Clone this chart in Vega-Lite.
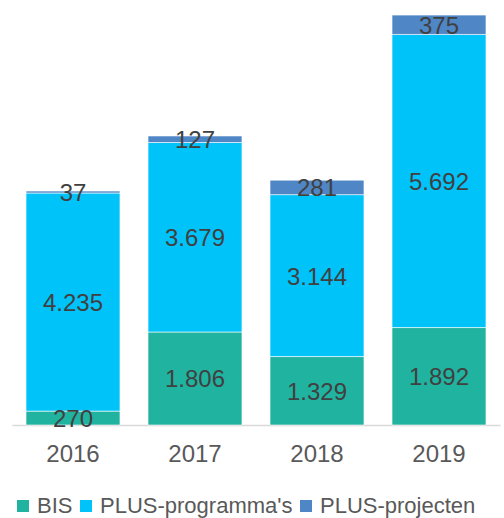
{
  "$schema": "https://vega.github.io/schema/vega-lite/v6.json",
  "width": 488,
  "height": 412,
  "autosize": {"type": "none"},
  "padding": {"left": 12, "top": 13, "right": 4, "bottom": 93},
  "background": "#ffffff",
  "config": {
    "view": {"stroke": null},
    "font": "Liberation Sans",
    "locale": {"number": {"decimal": ",", "thousands": ".", "grouping": [3], "currency": ["€", ""]}}
  },
  "data": {
    "values": [
      {"jaar": "2016", "type": "BIS", "waarde": 270},
      {"jaar": "2016", "type": "PLUS-programma's", "waarde": 4235},
      {"jaar": "2016", "type": "PLUS-projecten", "waarde": 37},
      {"jaar": "2017", "type": "BIS", "waarde": 1806},
      {"jaar": "2017", "type": "PLUS-programma's", "waarde": 3679},
      {"jaar": "2017", "type": "PLUS-projecten", "waarde": 127},
      {"jaar": "2018", "type": "BIS", "waarde": 1329},
      {"jaar": "2018", "type": "PLUS-programma's", "waarde": 3144},
      {"jaar": "2018", "type": "PLUS-projecten", "waarde": 281},
      {"jaar": "2019", "type": "BIS", "waarde": 1892},
      {"jaar": "2019", "type": "PLUS-programma's", "waarde": 5692},
      {"jaar": "2019", "type": "PLUS-projecten", "waarde": 375}
    ]
  },
  "transform": [
    {"stack": "waarde", "groupby": ["jaar"], "sort": [{"field": "type", "order": "ascending"}], "as": ["y0", "y1"]},
    {"calculate": "(datum.y0 + datum.y1) / 2", "as": "ymid"}
  ],
  "encoding": {
    "x": {
      "field": "jaar",
      "type": "nominal",
      "scale": {"paddingInner": 0.23, "paddingOuter": 0.115},
      "axis": {
        "title": null,
        "labelAngle": 0,
        "ticks": false,
        "domainColor": "#d9d9d9",
        "domainWidth": 1.5,
        "labelFontSize": 24,
        "labelColor": "#595959",
        "labelPadding": 17,
        "grid": false
      }
    }
  },
  "layer": [
    {
      "mark": {"type": "bar", "stroke": "#ffffff", "strokeWidth": 0.6},
      "encoding": {
        "y": {"field": "y0", "type": "quantitative", "scale": {"domain": [0, 8000], "nice": false}, "axis": null},
        "y2": {"field": "y1"},
        "color": {
          "field": "type",
          "type": "nominal",
          "scale": {"domain": ["BIS", "PLUS-programma's", "PLUS-projecten"], "range": ["#20B3A0", "#00C3FA", "#4F86C6"]},
          "legend": {
            "title": null,
            "orient": "bottom",
            "direction": "horizontal",
            "symbolType": "square",
            "symbolSize": 144,
            "symbolStrokeWidth": 0,
            "labelFontSize": 22,
            "labelLimit": 0,
            "labelColor": "#595959",
            "labelOffset": 3,
            "columnPadding": 2,
            "offset": 29
          }
        }
      }
    },
    {
      "mark": {"type": "text", "fontSize": 24, "color": "#404040", "baseline": "middle", "align": "center", "dy": 2},
      "encoding": {
        "y": {"field": "ymid", "type": "quantitative"},
        "text": {"field": "waarde", "type": "quantitative", "format": ",d"}
      }
    }
  ]
}
